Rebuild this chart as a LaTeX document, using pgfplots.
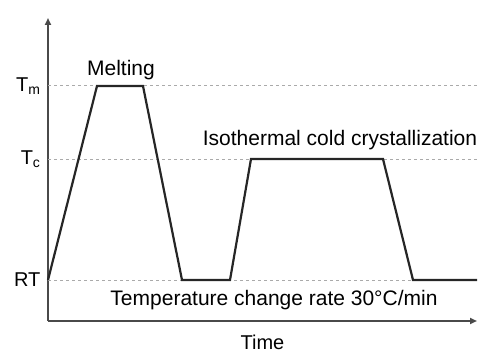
\documentclass[border=0pt]{standalone}
\usepackage{pgfplots}
\pgfplotsset{compat=1.18}
\usepackage{fontspec}
\setmainfont{Liberation Sans}
\usetikzlibrary{arrows.meta}
\definecolor{axgray}{HTML}{4A4A4A}
\definecolor{dashgray}{HTML}{AAAAAA}
\begin{document}
\begin{tikzpicture}
\useasboundingbox (-48pt,-33pt) rectangle (432pt,321pt);
\begin{axis}[
  x=1pt, y=1pt,
  xmin=0, xmax=429, ymin=0, ymax=303,
  axis lines=left,
  axis line style={axgray, line width=1.8pt, -{Triangle[length=7pt,width=6pt]}},
  xtick=\empty,
  ytick={41,162,235},
  yticklabels={RT, T\textsubscript{c}, T\textsubscript{m}},
  major tick length=0pt,
  yticklabel style={font=\fontsize{20}{24}\selectfont, xshift=-4pt},
  xlabel={Time},
  xlabel style={font=\fontsize{20}{24}\selectfont, yshift=-10pt},
  clip=false,
]
\addplot[dashgray, line width=1pt, dash pattern=on 3pt off 3pt] coordinates {(0,235) (429,235)};
\addplot[dashgray, line width=1pt, dash pattern=on 3pt off 3pt] coordinates {(0,162) (429,162)};
\addplot[dashgray, line width=1pt, dash pattern=on 3pt off 3pt] coordinates {(0,41) (429,41)};
\addplot[black!85, line width=2.2pt, line join=miter] coordinates {
  (0,41) (49,235) (95,235) (134,41) (182,41) (203,162) (335,162) (365,41) (429,41)
};
\node[font=\fontsize{21}{24}\selectfont] at (axis cs:73,251) {Melting};
\node[font=\fontsize{21}{24}\selectfont] at (axis cs:292,181) {Isothermal cold crystallization};
\node[font=\fontsize{21}{24}\selectfont] at (axis cs:226,21) {Temperature change rate 30°C/min};
\end{axis}
\end{tikzpicture}
\end{document}
